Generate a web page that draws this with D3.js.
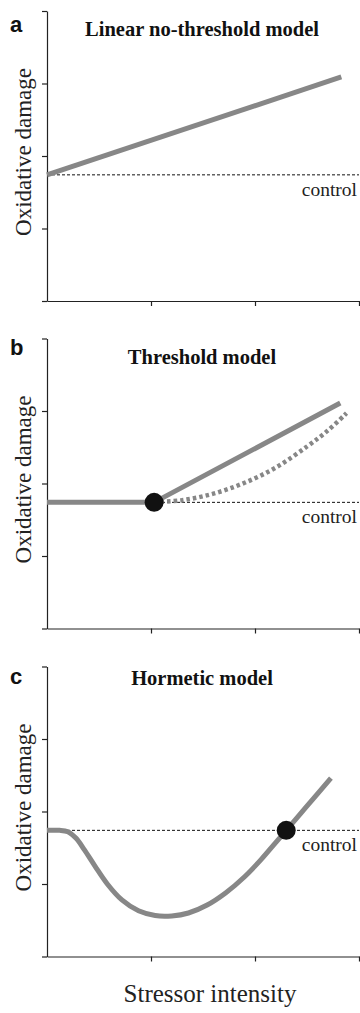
<!DOCTYPE html>
<html>
<head>
<meta charset="utf-8">
<script src="https://cdn.jsdelivr.net/npm/d3@7"></script>
<style>
	body { margin: 0; background: #fff; }
	svg { display: block; }
</style>
</head>
<body>
<div id="chart"></div>
<script>
// axis ticks (unlabelled)
const xTicks = [1, 2, 3];
const yTicks = [0, 1, 2, 3, 4];
const controlLevel = 1.74;

// panel texts
const panelLetters = ['a', 'b', 'c'];
const panelTitles = ['Linear no-threshold model', 'Threshold model', 'Hormetic model'];
const yLabel = 'Oxidative damage';
const xLabel = 'Stressor intensity';
const controlLabel = 'control';

// a: linear no-threshold
const linearX = [0, 2.83];
const linearY = [1.74, 3.09];

// b: threshold
const thresholdX = [0, 1.03, 2.82];
const thresholdY = [1.74, 1.74, 3.11];
const thresholdCurveX = [1.03, 1.3, 1.6, 1.9, 2.2, 2.5, 2.7, 2.88];
const thresholdCurveY = [1.74, 1.77, 1.86, 2.01, 2.22, 2.51, 2.73, 2.97];
const thresholdPoint = [1.03, 1.74];

// c: hormetic
const hormeticX = [0, 0.12, 0.2, 0.28, 0.36, 0.46, 0.58, 0.72, 0.88, 1.04, 1.2, 1.36, 1.54, 1.72, 1.9, 2.06, 2.18, 2.3, 2.44, 2.58, 2.73];
const hormeticY = [1.74, 1.74, 1.72, 1.63, 1.47, 1.25, 1.0, 0.78, 0.63, 0.565, 0.56, 0.6, 0.71, 0.88, 1.1, 1.34, 1.54, 1.74, 1.975, 2.21, 2.46];
const hormeticPoint = [2.30, 1.74];

const width = 360, height = 1013;
const left = 47, right = 359, plotH = 290;
const panels = [
	{ top: 11, titleY: 35.5, letterY: 31.5 },
	{ top: 338.5, titleY: 364, letterY: 355 },
	{ top: 666.5, titleY: 685, letterY: 683.5 }
];

const lineColor = '#878787';
const serif = '"Liberation Serif", "Times New Roman", serif';
const sans = '"Liberation Sans", Arial, sans-serif';

const svg = d3.select('#chart').append('svg')
	.attr('width', width)
	.attr('height', height);

const x = d3.scaleLinear().domain([0, 3]).range([left, right]);
const zip = (xs, ys) => xs.map((v, i) => [v, ys[i]]);

panels.forEach((p, i) => {
	const y = d3.scaleLinear().domain([0, 4]).range([p.top + plotH, p.top]);
	const g = svg.append('g').attr('class', 'panel');

	const line = d3.line().x(d => x(d[0])).y(d => y(d[1]));

	// axes
	g.append('g')
		.attr('transform', `translate(0, ${y(0)})`)
		.call(d3.axisBottom(x).tickValues(xTicks).tickSize(5).tickSizeOuter(0).tickFormat(''))
		.call(a => a.selectAll('path, line').attr('stroke', '#222').attr('stroke-width', 1.2));

	g.append('g')
		.attr('transform', `translate(${left}, 0)`)
		.call(d3.axisLeft(y).tickValues(yTicks).tickSize(5).tickSizeOuter(0).tickFormat(''))
		.call(a => a.selectAll('path, line').attr('stroke', '#222').attr('stroke-width', 1.2));

	// control reference
	g.append('line')
		.attr('x1', x(0)).attr('x2', right)
		.attr('y1', y(controlLevel)).attr('y2', y(controlLevel))
		.attr('stroke', '#111')
		.attr('stroke-width', 1)
		.attr('stroke-dasharray', '3,2');

	g.append('text')
		.attr('x', 357)
		.attr('y', y(controlLevel) + 21)
		.attr('text-anchor', 'end')
		.style('font-family', serif)
		.style('font-size', '19.5px')
		.style('fill', '#222')
		.text(controlLabel);

	// model curves
	if (i === 0) {
		g.append('path')
			.attr('d', line(zip(linearX, linearY)))
			.attr('fill', 'none').attr('stroke', lineColor).attr('stroke-width', 5);
	} else if (i === 1) {
		g.append('path')
			.attr('d', line.curve(d3.curveCatmullRom)(zip(thresholdCurveX, thresholdCurveY)))
			.attr('fill', 'none').attr('stroke', lineColor).attr('stroke-width', 4.5)
			.attr('stroke-dasharray', '3.5,3');
		g.append('path')
			.attr('d', line.curve(d3.curveLinear)(zip(thresholdX, thresholdY)))
			.attr('fill', 'none').attr('stroke', lineColor).attr('stroke-width', 5);
		g.append('circle')
			.attr('cx', x(thresholdPoint[0])).attr('cy', y(thresholdPoint[1]))
			.attr('r', 9.5).attr('fill', '#111');
	} else {
		g.append('path')
			.attr('d', line.curve(d3.curveCatmullRom.alpha(0.5))(zip(hormeticX, hormeticY)))
			.attr('fill', 'none').attr('stroke', lineColor).attr('stroke-width', 5);
		g.append('circle')
			.attr('cx', x(hormeticPoint[0])).attr('cy', y(hormeticPoint[1]))
			.attr('r', 9.5).attr('fill', '#111');
	}

	// labels
	g.append('text')
		.attr('x', 10)
		.attr('y', p.letterY)
		.style('font-family', sans)
		.style('font-weight', 'bold')
		.style('font-size', '22px')
		.style('fill', '#111')
		.text(panelLetters[i]);

	g.append('text')
		.attr('x', 202)
		.attr('y', p.titleY)
		.attr('text-anchor', 'middle')
		.style('font-family', serif)
		.style('font-weight', 'bold')
		.style('font-size', '20.5px')
		.style('fill', '#111')
		.text(panelTitles[i]);

	g.append('text')
		.attr('transform', `translate(31, ${p.top + 141}) rotate(-90)`)
		.attr('text-anchor', 'middle')
		.style('font-family', serif)
		.style('font-size', '23px')
		.style('fill', '#222')
		.text(yLabel);
});

svg.append('text')
	.attr('x', 210)
	.attr('y', 1002)
	.attr('text-anchor', 'middle')
	.style('font-family', serif)
	.style('font-size', '25px')
	.style('fill', '#222')
	.text(xLabel);
</script>
</body>
</html>
